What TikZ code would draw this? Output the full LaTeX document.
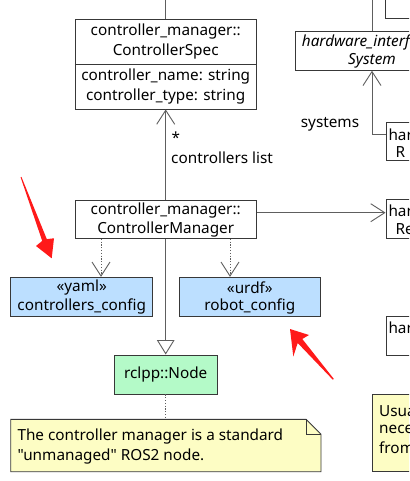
\documentclass[tikz,border=0pt]{standalone}
\usepackage{fontspec}
\setmainfont{Noto Sans}[Ligatures=TeXOff]
\usetikzlibrary{arrows.meta}
\definecolor{borderC}{HTML}{383838}
\definecolor{lineC}{HTML}{5E5E5E}
\definecolor{blueF}{HTML}{BCDFFF}
\definecolor{greenF}{HTML}{B4FAC8}
\definecolor{noteF}{HTML}{FDFDC4}
\definecolor{redA}{HTML}{FF1A1A}
\tikzset{
  boxS/.style={draw=borderC, line width=0.9pt, inner sep=0pt, fill=white},
  txt/.style={font=\fontsize{15.3}{18}\selectfont, inner sep=0pt, text=black},
  conn/.style={draw=lineC, line width=0.9pt},
  dep/.style={draw=lineC, line width=0.9pt, dash pattern=on 1.2pt off 1.6pt},
  barb/.tip={Straight Barb[length=14pt,width=18pt,line width=0.9pt]},
  ext/.tip={Triangle[open,length=14.5pt,width=17.6pt,line width=0.9pt,fill=white]},
  redarrow/.style={fill=redA, draw=none}
}
\begin{document}
\begin{tikzpicture}[x=1pt,y=-1pt]
\useasboundingbox (0,0) rectangle (409,481);
\clip (0,0) rectangle (409,481);
\fill[white] (0,0) rectangle (409,481);

% ControllerSpec
\node[boxS, minimum width=181pt, minimum height=90pt] (spec) at (165.7,64) {};
\draw[borderC, line width=0.9pt] (spec.west |- 0,64.3) -- (spec.east |- 0,64.3);
\node[txt] (s1) at (165.7,32) {controller\_manager::};
\node[txt] (s2) at (165.7,52) {ControllerSpec};
\node[txt] (s3) at (165.7,77) {controller\_name: string};
\node[txt] (s4) at (165.7,97) {controller\_type: string};

% ControllerManager
\node[boxS, minimum width=181pt, minimum height=38.3pt] (cm) at (165.7,219.15) {};
\node[txt] (c1) at (165.7,211) {controller\_manager::};
\node[txt] (c2) at (165.7,230) {ControllerManager};

% configs
\node[boxS, fill=blueF, minimum width=142pt, minimum height=38.7pt] (yaml) at (81.7,296.65) {};
\node[txt] (y1) at (81.7,288) {«yaml»};
\node[txt] (y2) at (81.7,306.7) {controllers\_config};
\node[boxS, fill=blueF, minimum width=141.7pt, minimum height=38.7pt] (urdf) at (249.85,296.65) {};
\node[txt] (u1) at (249.85,288) {«urdf»};
\node[txt] (u2) at (249.85,306.7) {robot\_config};

% rclcpp node
\node[boxS, fill=greenF, minimum width=103.4pt, minimum height=39pt] (rcl) at (165.7,374.5) {};
\node[txt] (r1) at (165.7,374.3) {rclpp::Node};

% note
\coordinate (noteN) at (165.7,419.3);
\draw[borderC, line width=0.9pt, fill=noteF] (10.7,419.3) -- (306,419.3) -- (321,434.3) -- (321,471.7) -- (10.7,471.7) -- cycle;
\draw[borderC, line width=0.9pt] (306,419.3) -- (306,434.3) -- (321,434.3);
\node[txt, anchor=west] (n1) at (17.3,436.7) {The controller manager is a standard};
\node[txt, anchor=west] (n2) at (17.3,456.7) {"unmanaged" ROS2 node.};

% right side partial boxes
\node[boxS, minimum width=154pt, minimum height=38.6pt] (sys) at (372,51) {};
\node[txt, anchor=west, font=\fontsize{15.3}{18}\selectfont\itshape] (sy1) at (301.7,42) {hardware\_interf};
\node[txt, font=\fontsize{15.3}{18}\selectfont\itshape] (sy2) at (372,61) {System};
\draw[boxS] (385.3,-20) rectangle (470,18.3);
\node[boxS, minimum width=84pt, minimum height=38pt] (hwA) at (428,141.7) {};
\node[txt, anchor=west] (a1) at (388.3,135) {har};
\node[txt, anchor=west] (a2) at (395.5,152.5) {R};
\node[boxS, minimum width=84pt, minimum height=39pt] (hwB) at (428,218.8) {};
\node[txt, anchor=west] (b1) at (388.3,211) {har};
\node[txt, anchor=west] (b2) at (395.5,229) {Re};
\node[boxS, minimum width=84pt, minimum height=38.7pt] (hwC) at (428,335.65) {};
\node[txt, anchor=west] (h1) at (388.3,328) {har};
\draw[borderC, line width=0.9pt, fill=noteF] (372.3,394.3) rectangle (470,471.7);
\node[txt, anchor=west] (m1) at (379,411.5) {Usua};
\node[txt, anchor=west] (m2) at (379,429.5) {nece};
\node[txt, anchor=west] (m3) at (379,447.5) {from};

% connectors
\coordinate (top1) at (165.7,0);
\coordinate (top2) at (372,0);
\draw[conn] (top1) -- (spec.north);
\draw[conn] (top2) -- (sys.north);
\draw[conn, -barb] (cm.north) -- (spec.south);
\node[txt, anchor=west] (star) at (171.5,138) {*};
\node[txt, anchor=west] (cl) at (171,158) {controllers list};
\draw[conn, -barb] ([yshift=6.45pt]cm.east) -- ([yshift=6.45pt]cm.east -| hwB.west);
\draw[conn, -barb] ([yshift=7.7pt]hwA.west) -| (sys.south);
\node[txt] (sl) at (330,124) {systems};
\coordinate (xy) at (101,0);
\coordinate (xu) at (230,0);
\draw[dep, -barb] (cm.south -| xy) -- (yaml.north -| xy);
\draw[dep, -barb] (cm.south -| xu) -- (urdf.north -| xu);
\draw[conn, -ext] (cm.south) -- (rcl.north);
\draw[dep] (rcl.south) -- (noteN);

% red annotation arrows
\fill[redarrow] (20.6,177.2) -- (21.4,176.8) -- (46.8,239.1) -- (54,238.3) -- (51.7,258.3) -- (36,246) -- (42.2,240.9) -- cycle;
\fill[redarrow] (333.8,378.9) -- (332.8,379.7) -- (297.7,343) -- (293.3,356.5) -- (290,329) -- (309,335) -- (302.3,339) -- cycle;
\end{tikzpicture}
\end{document}
